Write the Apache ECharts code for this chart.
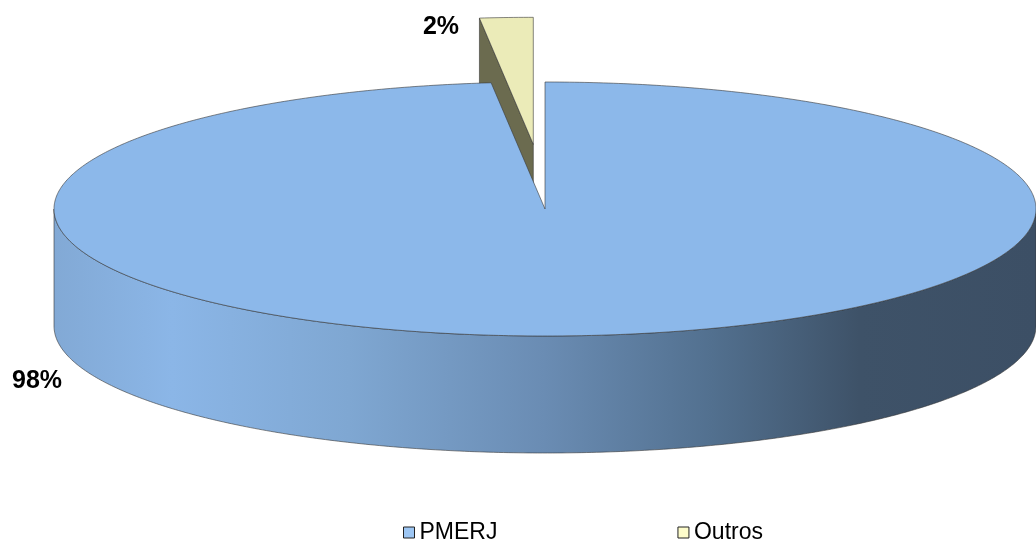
<!DOCTYPE html>
<html>
<head>
<meta charset="utf-8">
<script src="https://cdn.jsdelivr.net/npm/echarts@6/dist/echarts.min.js"></script>
<style>
html, body { margin: 0; padding: 0; background: #fff; }
#chart { width: 1036px; height: 542px; }
</style>
</head>
<body>
<div id="chart"></div>
<script>
// fatias (rótulos arredondados)
var categories = ['PMERJ', 'Outros'];
var values = [98.25, 1.75];
var exploded = [0, 0.51];

// aparência
var topColors = ['#8cb8ea', '#ebebb8'];
var cutColors = ['#4f6a8a', '#6b6b4f'];
var legendColors = ['#9dc6f3', '#fdfccb'];
var wallStops = [
    [[0, '#82a9d5'], [0.12, '#8bb6e7'], [0.3, '#7fa7d2'], [0.5, '#6a8cb3'], [0.67, '#52708f'], [0.82, '#3e5268'], [1, '#3c4f65']],
    [[0, '#b8b88a'], [1, '#5a5a40']]
];
var pie = { cx: 545, cy: 209, rx: 491, ry: 127, depth: 117 };
var labelAt = [[37, 381], [441, 27]];
var edge = 'rgba(55,55,55,0.75)';

var total = values.reduce(function (a, b) { return a + b; }, 0);
var starts = [];
values.reduce(function (acc, v, i) { starts[i] = acc; return acc + v; }, 0);

function rim(t, dx, dy, down) {
    return [pie.cx + dx + pie.rx * Math.sin(t), pie.cy + dy - pie.ry * Math.cos(t) + (down ? pie.depth : 0)];
}
function arc(t0, t1, dx, dy, down) {
    var n = Math.max(2, Math.ceil(Math.abs(t1 - t0) / 0.01));
    var pts = [];
    for (var k = 0; k <= n; k++) pts.push(rim(t0 + (t1 - t0) * k / n, dx, dy, down));
    return pts;
}
function midAngle(i) {
    return (starts[i] + values[i] / 2) / total * 2 * Math.PI;
}

function renderSlice(i) {
    return function (params, api) {
        var v = api.value(0);
        var t0 = starts[i] / total * 2 * Math.PI;
        var t1 = (starts[i] + v) / total * 2 * Math.PI;
        var mid = (t0 + t1) / 2;
        var dx = exploded[i] * pie.rx * Math.sin(mid) * 0.85;
        var dy = -exploded[i] * pie.ry * Math.cos(mid);
        var c = [pie.cx + dx, pie.cy + dy];
        var cd = [c[0], c[1] + pie.depth];
        var children = [];
        function face(points, fill) {
            children.push({ type: 'polygon', shape: { points: points }, style: { fill: fill, stroke: edge, lineWidth: 0.8 } });
        }
        // faces de corte visíveis
        if (Math.sin(t0) < -1e-6) {
            face([c, rim(t0, dx, dy, false), rim(t0, dx, dy, true), cd], cutColors[i]);
        }
        if (Math.sin(t1) > 1e-6) {
            face([c, rim(t1, dx, dy, false), rim(t1, dx, dy, true), cd], cutColors[i]);
        }
        // parede externa (metade da frente)
        var w0 = Math.max(t0, Math.PI / 2), w1 = Math.min(t1, 1.5 * Math.PI);
        if (w1 > w0) {
            var upper = arc(w0, w1, dx, dy, false);
            var lower = arc(w0, w1, dx, dy, true).reverse();
            face(upper.concat(lower), {
                type: 'linear', x: pie.cx - pie.rx, y: 0, x2: pie.cx + pie.rx, y2: 0, global: true,
                colorStops: wallStops[i].map(function (s) { return { offset: s[0], color: s[1] }; })
            });
        }
        // topo
        face([c].concat(arc(t0, t1, dx, dy, false)), topColors[i]);
        // rótulo
        children.push({
            type: 'text',
            style: {
                x: labelAt[i][0], y: labelAt[i][1],
                text: Math.round(v / total * 100) + '%',
                align: 'center', verticalAlign: 'middle',
                font: 'bold 25px "Liberation Sans", Arial, sans-serif', fill: '#000'
            }
        });
        return { type: 'group', children: children };
    };
}

var chart = echarts.init(document.getElementById('chart'));
chart.setOption({
    animation: false,
    legend: {
        data: categories,
        left: 403,
        top: 521,
        padding: 0,
        itemWidth: 11,
        itemHeight: 11,
        itemGap: 180,
        icon: 'rect',
        itemStyle: { borderColor: '#222', borderWidth: 1 },
        textStyle: { fontSize: 23, fontFamily: '"Liberation Sans", Arial, sans-serif', color: '#000' }
    },
    series: categories.map(function (name, i) {
        return {
            type: 'custom',
            name: name,
            coordinateSystem: 'none',
            silent: true,
            z: 2 + Math.round(-Math.cos(midAngle(i)) * 2),
            itemStyle: { color: legendColors[i] },
            data: [values[i]],
            renderItem: renderSlice(i)
        };
    })
});
</script>
</body>
</html>
